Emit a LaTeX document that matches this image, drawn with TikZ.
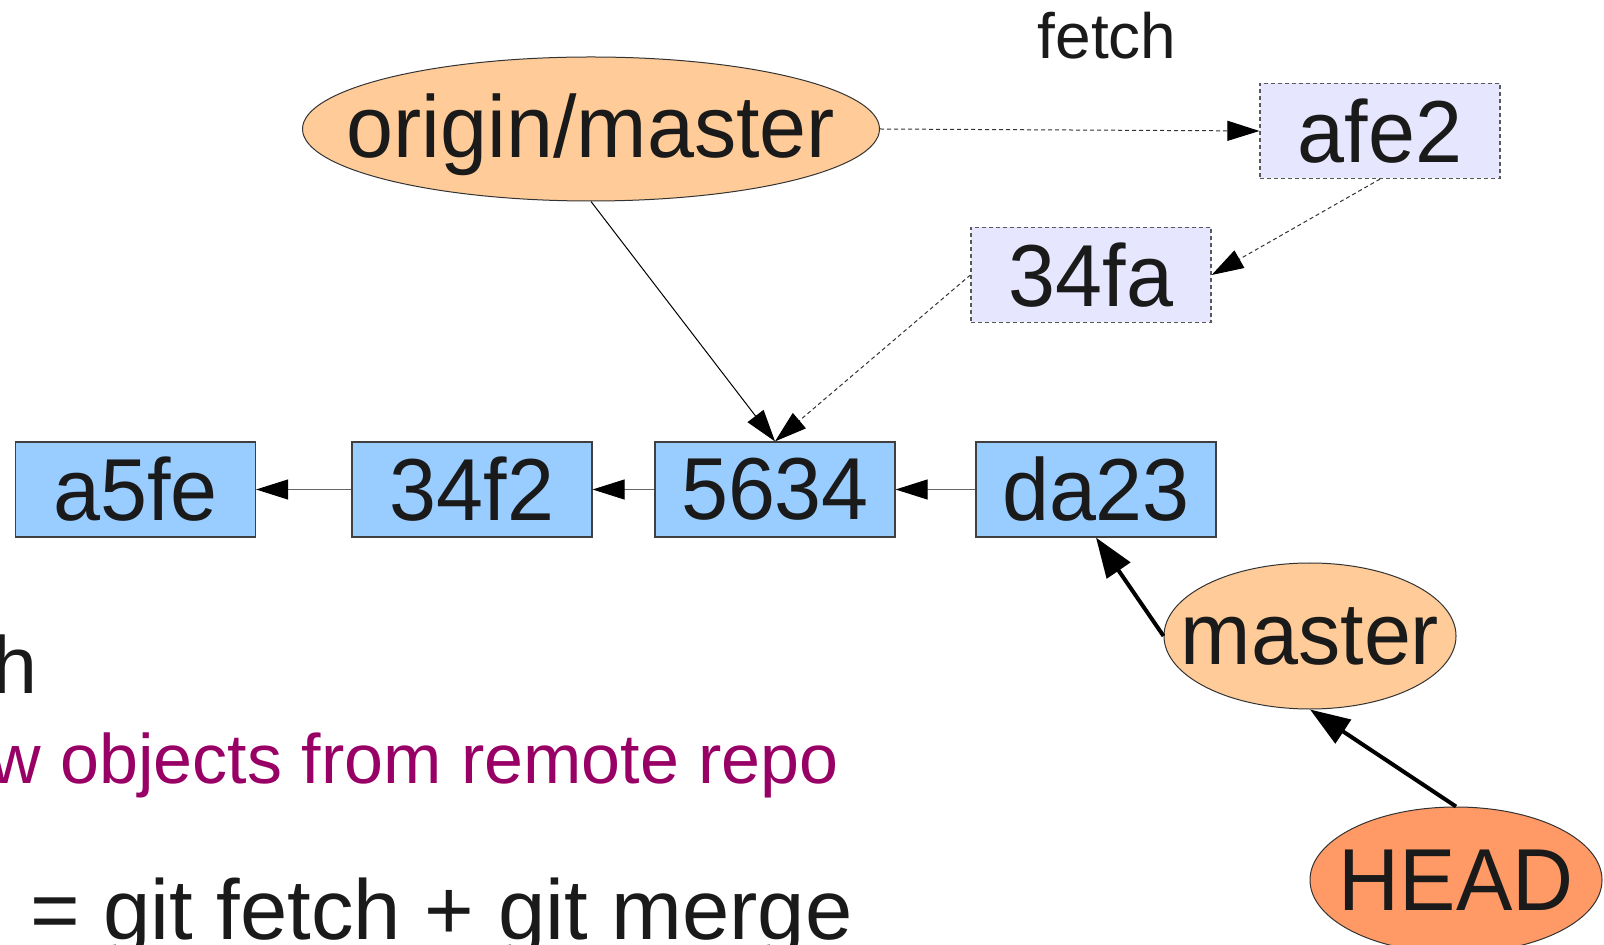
\documentclass[tikz,border=0pt]{standalone}
\usepackage{fontspec}
\setmainfont{Liberation Sans}
\newfontfamily\diagfont[FakeStretch=0.96]{Liberation Sans}
\usetikzlibrary{shapes.geometric,arrows.meta}
\definecolor{commitblue}{HTML}{99CCFF}
\definecolor{lavender}{HTML}{E6E6FF}
\definecolor{reforange}{HTML}{FFCC99}
\definecolor{headorange}{HTML}{FF9966}
\definecolor{purpletext}{HTML}{990066}
\definecolor{inktext}{HTML}{1A1A1A}
\tikzset{
  bigfont/.style={font=\diagfont\fontsize{44pt}{48pt}\selectfont},
  commit/.style={rectangle, draw=black!75, line width=0.6pt, fill=commitblue,
    minimum width=120pt, minimum height=47.5pt, inner sep=0pt, text=inktext, bigfont},
  newcommit/.style={commit, fill=lavender, draw=black!65, dash pattern=on 2pt off 1.5pt},
  refnode/.style={ellipse, draw=black!80, line width=0.5pt, fill=reforange,
    inner sep=0pt, text=inktext, bigfont},
  thinarrow/.style={draw=black!60, line width=0.5pt, -{Triangle[length=16pt,width=10pt,color=black]}},
  dasharrow/.style={draw=black!80, line width=0.5pt, dash pattern=on 2pt off 1.5pt,
    -{Triangle[length=16pt,width=10pt,color=black]}},
  thickarrow/.style={draw=black, line width=2pt, -{Triangle[length=20pt,width=14pt]}},
  slidetext/.style={inner sep=0pt, text=inktext}
}
\begin{document}
\begin{tikzpicture}[x=0.5pt,y=-0.5pt]
\useasboundingbox[fill=white] (0,0) rectangle (1604,945);
% commits
\node[commit] (a5fe) at (135.5,489.5) {a5fe};
\node[commit] (c34f2) at (472,489.5) {34f2};
\node[commit] (c5634) at (775,489.5) {5634};
\node[commit] (da23) at (1096,489.5) {da23};
\node[newcommit] (afe2) at (1380,131) {afe2};
\node[newcommit] (c34fa) at (1091,275) {34fa};
% refs
\node[refnode, minimum width=288.5pt, minimum height=72pt] (origin) at (591,129)
  {\makebox[0pt]{\raisebox{-14.5pt}[0pt][0pt]{origin/master}}};
\node[refnode, minimum width=146pt, minimum height=73pt] (master) at (1310,636)
  {\makebox[0pt]{master}};
\node[refnode, fill=headorange, minimum width=146pt, minimum height=73pt] (head) at (1456,880)
  {\makebox[0pt]{HEAD}};
% texts
\node[slidetext, anchor=base, font=\fontsize{32pt}{36pt}\selectfont] (fetchlbl) at (1107,59) {fetch};
\node[slidetext, anchor=base east, font=\fontsize{40.5pt}{44pt}\selectfont] (hpart) at (38,693) {h};
\node[slidetext, anchor=base east, text=purpletext, font=\fontsize{35pt}{39pt}\selectfont] (wpart) at (839,783) {w objects from remote repo};
\node[slidetext, anchor=base west, font=\fontsize{42.5pt}{46pt}\selectfont] (pullpart) at (30,939) {= git fetch + git merge};
% connectors
\draw[thinarrow] (c34f2) -- (a5fe);
\draw[thinarrow] (c5634) -- (c34f2);
\draw[thinarrow] (da23) -- (c5634);
\draw[thinarrow, draw=black] (origin.south) -- (c5634.north);
\draw[dasharrow] (c34fa.west) -- (c5634.north);
\draw[dasharrow] (origin.east) -- (afe2.west);
\draw[dasharrow] (afe2.south) -- (c34fa.east);
\draw[thickarrow] (master.west) -- (da23.south);
\draw[thickarrow] (head.north) -- (master.south);
\end{tikzpicture}
\end{document}
